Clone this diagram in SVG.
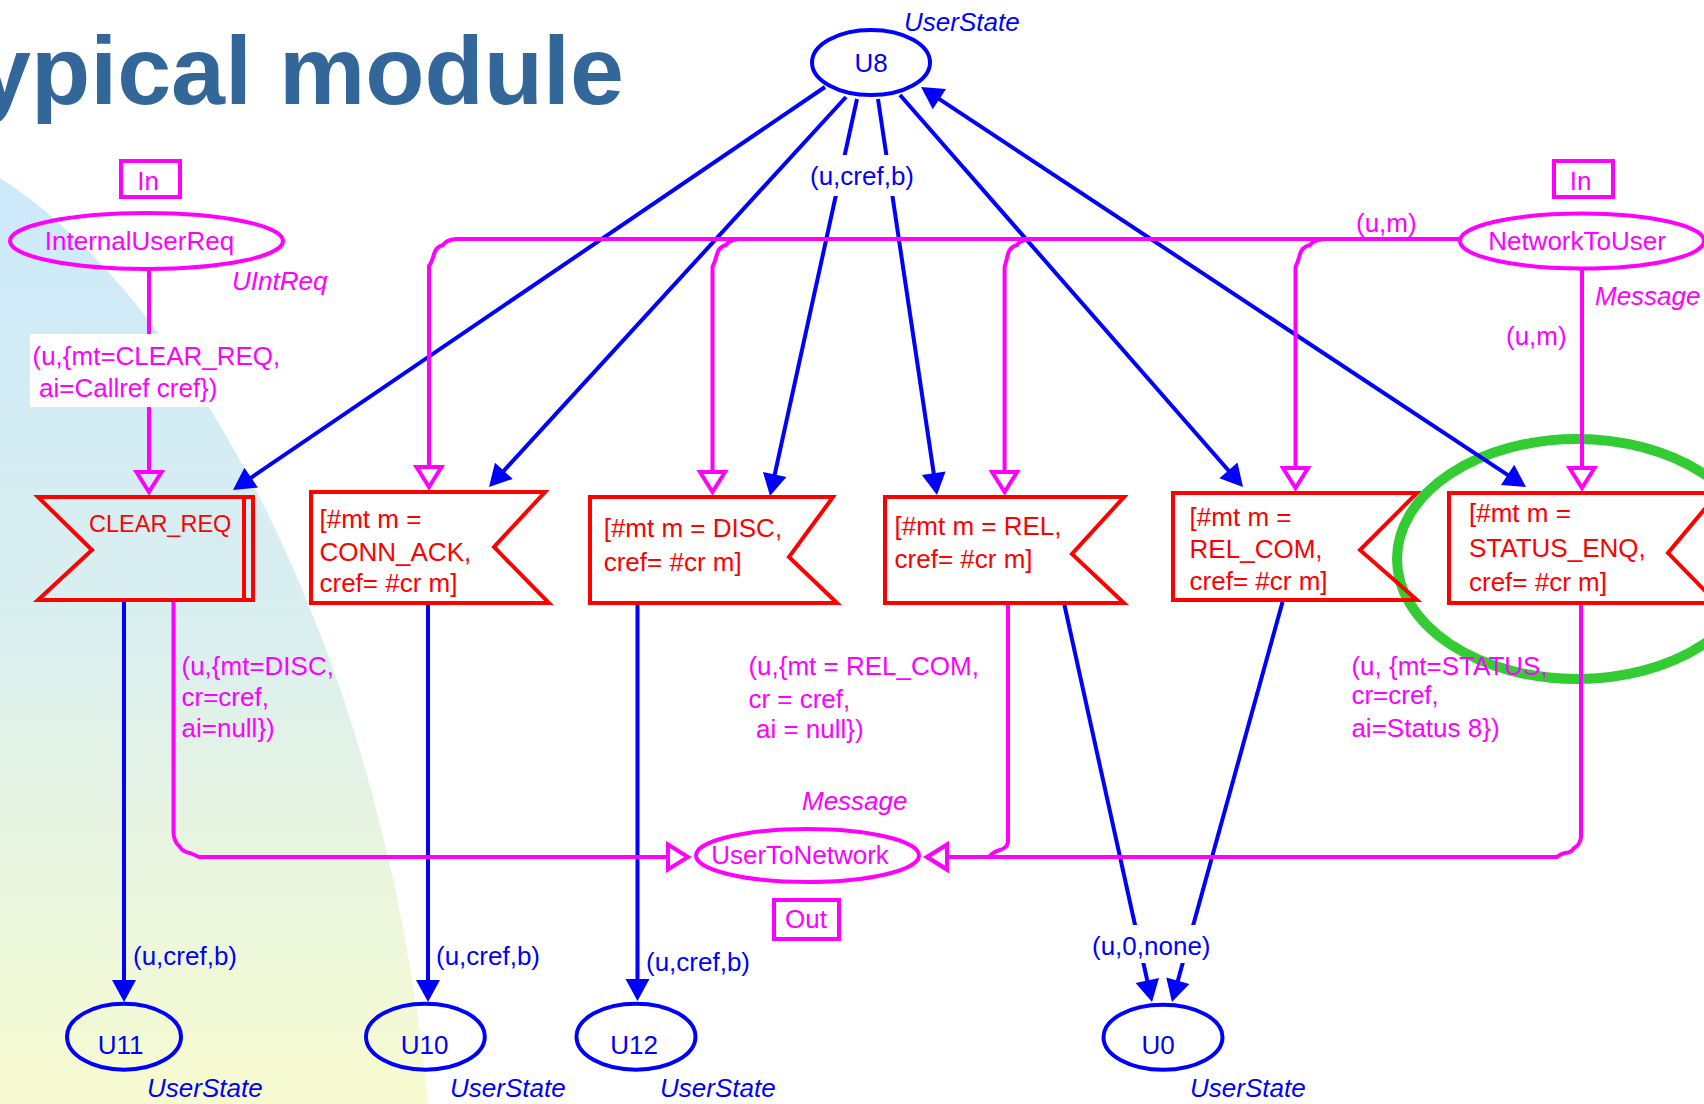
<svg xmlns="http://www.w3.org/2000/svg" width="1704" height="1104" viewBox="0 0 1704 1104">
  <style>
    .txt { font-family: "Liberation Sans", Arial, sans-serif; font-size: 26px; }
    .it { font-style: italic; }
    .tb { fill: #0000FF; }
    .tm { fill: #FF00FF; }
    .tr { fill: #FF0000; }
    .place { fill: none; stroke: #0000FF; stroke-width: 4; }
    .mplace { fill: none; stroke: #FF00FF; stroke-width: 4; }
    .tag { fill: none; stroke: #FF00FF; stroke-width: 4; }
    .trans { fill: none; stroke: #FF0000; stroke-width: 4; stroke-linejoin: miter; }
    .arc-b { fill: none; stroke: #0000FF; stroke-width: 4; marker-end: url(#ah-fill); }
    .arc-m { fill: none; stroke: #FF00FF; stroke-width: 4; marker-end: url(#ah-open); }
    .lblbg { fill: #FFFFFF; }
  </style>
  <defs>
    <linearGradient id="bgfade" gradientUnits="userSpaceOnUse" x1="0" y1="178" x2="0" y2="1104">
      <stop offset="0" stop-color="#CDE9FA"/>
      <stop offset="0.49" stop-color="#DAEFEF"/>
      <stop offset="0.67" stop-color="#E5F3E3"/>
      <stop offset="1" stop-color="#F7FBD0"/>
    </linearGradient>
    <marker id="ah-fill" markerUnits="userSpaceOnUse" viewBox="0 -13 23 26" refX="14" refY="0" markerWidth="23" markerHeight="26" orient="auto-start-reverse" overflow="visible">
      <path d="M0,-12 L22,0 L0,12 Z" fill="#0000FF"/>
    </marker>
    <marker id="ah-open" markerUnits="userSpaceOnUse" viewBox="-3 -16 30 32" refX="0" refY="0" markerWidth="30" markerHeight="32" orient="auto" overflow="visible">
      <path d="M0,-12.5 L20,0 L0,12.5 Z" fill="none" stroke="#FF00FF" stroke-width="4"/>
    </marker>
  </defs>

  <!-- backdrop -->
  <rect x="0" y="0" width="1704" height="1104" fill="#FFFFFF"/>
  <path d="M0,178 C190,300 385,650 428,1104 L0,1104 Z" fill="url(#bgfade)"/>

  <!-- heading -->
  <text x="-23" y="104" font-family="'Liberation Sans', Arial, sans-serif" font-size="97" font-weight="bold" fill="#336699">ypical module</text>

  <!-- highlight ring -->
  <ellipse cx="1577" cy="559" rx="180" ry="120" fill="none" stroke="#33CC33" stroke-width="10"/>

  <!-- arcs -->
  <g id="connectors">
    <!-- blue state arcs -->
    <path class="arc-b" d="M825,87 L239.6,485.5"/>
    <path class="arc-b" d="M846,97 L494.4,481.1"/>
    <path class="arc-b" d="M857,99 L771.7,488.2"/>
    <path class="arc-b" d="M878,99 L935.8,487.1"/>
    <path class="arc-b" d="M900,95 L1237.7,481"/>
    <path class="arc-b" d="M927.7,91.4 L1519.3,482.6" style="marker-start: url(#ah-fill)"/>
    <path class="arc-b" d="M124,600 L124,994"/>
    <path class="arc-b" d="M428,603 L428,994"/>
    <path class="arc-b" d="M637.5,603 L637.5,993"/>
    <path class="arc-b" d="M1064,603 L1150.3,994.2"/>
    <path class="arc-b" d="M1282.5,602 L1174.1,994.3"/>

    <!-- magenta message arcs -->
    <path class="arc-m" d="M149,269 L149,472"/>
    <path class="arc-m" d="M1460,239 L456,239 Q446,240 443,245 Q436,247 434,254 Q432,262 429,266 L429,467"/>
    <path class="arc-m" d="M1460,239 L739,239 Q729,240 726,245 Q719,247 717,254 Q715,262 712.5,267 L712.5,472"/>
    <path class="arc-m" d="M1460,239 L1030,239 Q1020,240 1017,245 Q1010,247 1008,254 Q1006,262 1004.6,267 L1004.6,472"/>
    <path class="arc-m" d="M1460,239 L1324,239 Q1313,240 1310,245 Q1302,247 1300,254 Q1298,262 1295.5,267 L1295.5,468"/>
    <path class="arc-m" d="M1582,270 L1582,468"/>
    <path class="arc-m" d="M173.5,600 L173.5,833 Q174,842 180,847 Q183,852 190,853 Q195,855 199,857 L668,857"/>
    <path class="arc-m" d="M1008,603 L1008,842 Q1007,848 1000,850 Q993,852 989,857 L947,857"/>
    <path class="arc-m" d="M1581,603 L1581,837 Q1580,845 1574,848 Q1571,853 1565,853 Q1560,854 1557,857 L947,857"/>

    <!-- arc inscriptions -->
    <rect class="lblbg" x="30" y="334" width="258" height="73"/>
    <text class="txt tm" x="32.5" y="365">(u,{mt=CLEAR_REQ,</text>
    <text class="txt tm" x="39" y="397">ai=Callref cref})</text>

    <rect class="lblbg" x="806" y="155" width="112" height="41"/>
    <text class="txt tb" x="810" y="185">(u,cref,b)</text>

    <text class="txt tm" x="1356" y="232">(u,m)</text>
    <text class="txt tm" x="1506" y="345">(u,m)</text>

    <text class="txt tm" x="181.5" y="675">(u,{mt=DISC,</text>
    <text class="txt tm" x="181.5" y="706">cr=cref,</text>
    <text class="txt tm" x="181.5" y="737">ai=null})</text>

    <text class="txt tm" x="748.4" y="675">(u,{mt = REL_COM,</text>
    <text class="txt tm" x="748.4" y="708">cr = cref,</text>
    <text class="txt tm" x="756" y="738">ai = null})</text>

    <text class="txt tm" x="1351.4" y="675">(u, {mt=STATUS,</text>
    <text class="txt tm" x="1351.4" y="704">cr=cref,</text>
    <text class="txt tm" x="1351.4" y="737">ai=Status 8})</text>

    <text class="txt tb" x="133" y="965">(u,cref,b)</text>
    <text class="txt tb" x="436" y="965">(u,cref,b)</text>
    <text class="txt tb" x="646" y="971">(u,cref,b)</text>

    <rect class="lblbg" x="1089" y="925" width="126" height="38"/>
    <text class="txt tb" x="1092" y="955">(u,0,none)</text>
  </g>

  <!-- places -->
  <g id="U8">
    <ellipse class="place" cx="871" cy="62.5" rx="59" ry="32.5"/>
    <text class="txt tb" x="871" y="72" text-anchor="middle">U8</text>
    <text class="txt tb it" x="904" y="31">UserState</text>
  </g>
  <g id="InternalUserReq">
    <rect class="tag" x="121" y="161" width="59" height="36"/>
    <text class="txt tm" x="148" y="190" text-anchor="middle">In</text>
    <ellipse class="mplace" cx="146.5" cy="241" rx="136.5" ry="28"/>
    <text class="txt tm" x="139.5" y="250" text-anchor="middle">InternalUserReq</text>
    <text class="txt tm it" x="232" y="290">UIntReq</text>
  </g>
  <g id="NetworkToUser">
    <rect class="tag" x="1554" y="161" width="59" height="36"/>
    <text class="txt tm" x="1580.5" y="190" text-anchor="middle">In</text>
    <ellipse class="mplace" cx="1582" cy="241" rx="122" ry="27.5"/>
    <text class="txt tm" x="1577" y="250" text-anchor="middle">NetworkToUser</text>
    <text class="txt tm it" x="1595" y="305">Message</text>
  </g>
  <g id="UserToNetwork">
    <ellipse class="mplace" cx="807.5" cy="855.5" rx="111.5" ry="26.5"/>
    <text class="txt tm" x="800" y="864" text-anchor="middle">UserToNetwork</text>
    <text class="txt tm it" x="802" y="810">Message</text>
    <rect class="tag" x="774" y="900" width="65" height="39"/>
    <text class="txt tm" x="806" y="928" text-anchor="middle">Out</text>
  </g>
  <g id="U11">
    <ellipse class="place" cx="124" cy="1036.7" rx="57" ry="33"/>
    <text class="txt tb" x="120.6" y="1054" text-anchor="middle">U11</text>
    <text class="txt tb it" x="147" y="1097">UserState</text>
  </g>
  <g id="U10">
    <ellipse class="place" cx="425.4" cy="1036.7" rx="59.4" ry="33"/>
    <text class="txt tb" x="424.5" y="1054" text-anchor="middle">U10</text>
    <text class="txt tb it" x="450" y="1097">UserState</text>
  </g>
  <g id="U12">
    <ellipse class="place" cx="636" cy="1036.7" rx="59.5" ry="33"/>
    <text class="txt tb" x="634" y="1054" text-anchor="middle">U12</text>
    <text class="txt tb it" x="660" y="1097">UserState</text>
  </g>
  <g id="U0">
    <ellipse class="place" cx="1163" cy="1037.2" rx="59.5" ry="32.5"/>
    <text class="txt tb" x="1158" y="1054" text-anchor="middle">U0</text>
    <text class="txt tb it" x="1190" y="1097">UserState</text>
  </g>

  <!-- transitions -->
  <g id="CLEAR_REQ">
    <polygon class="trans" points="38,497 253,497 253,600 38,600 92,550"/>
    <line class="trans" x1="244" y1="497" x2="244" y2="600"/>
    <text class="txt tr" x="89" y="532" style="font-size:23.5px">CLEAR_REQ</text>
  </g>
  <g id="CONN_ACK">
    <polygon class="trans" points="311,492 545,492 494,547 549,603 311,603"/>
    <text class="txt tr" x="319.5" y="528">[#mt m =</text>
    <text class="txt tr" x="319.5" y="561">CONN_ACK,</text>
    <text class="txt tr" x="319.5" y="592">cref= #cr m]</text>
  </g>
  <g id="DISC">
    <polygon class="trans" points="590,497 833,497 789,557 837,603 590,603"/>
    <text class="txt tr" x="603.7" y="537">[#mt m = DISC,</text>
    <text class="txt tr" x="603.7" y="571">cref= #cr m]</text>
  </g>
  <g id="REL">
    <polygon class="trans" points="885,497 1124,497 1072,554 1124,603 885,603"/>
    <text class="txt tr" x="894.6" y="535">[#mt m = REL,</text>
    <text class="txt tr" x="894.6" y="568">cref= #cr m]</text>
  </g>
  <g id="REL_COM">
    <polygon class="trans" points="1173,493 1417,493 1360,550 1417,600 1173,600"/>
    <text class="txt tr" x="1189.6" y="526">[#mt m =</text>
    <text class="txt tr" x="1189.6" y="558">REL_COM,</text>
    <text class="txt tr" x="1189.6" y="590">cref= #cr m]</text>
  </g>
  <g id="STATUS_ENQ">
    <polygon class="trans" points="1449,493 1718,493 1668,553 1717,603 1449,603"/>
    <text class="txt tr" x="1469" y="522">[#mt m =</text>
    <text class="txt tr" x="1469" y="557">STATUS_ENQ,</text>
    <text class="txt tr" x="1469" y="591">cref= #cr m]</text>
  </g>
</svg>
